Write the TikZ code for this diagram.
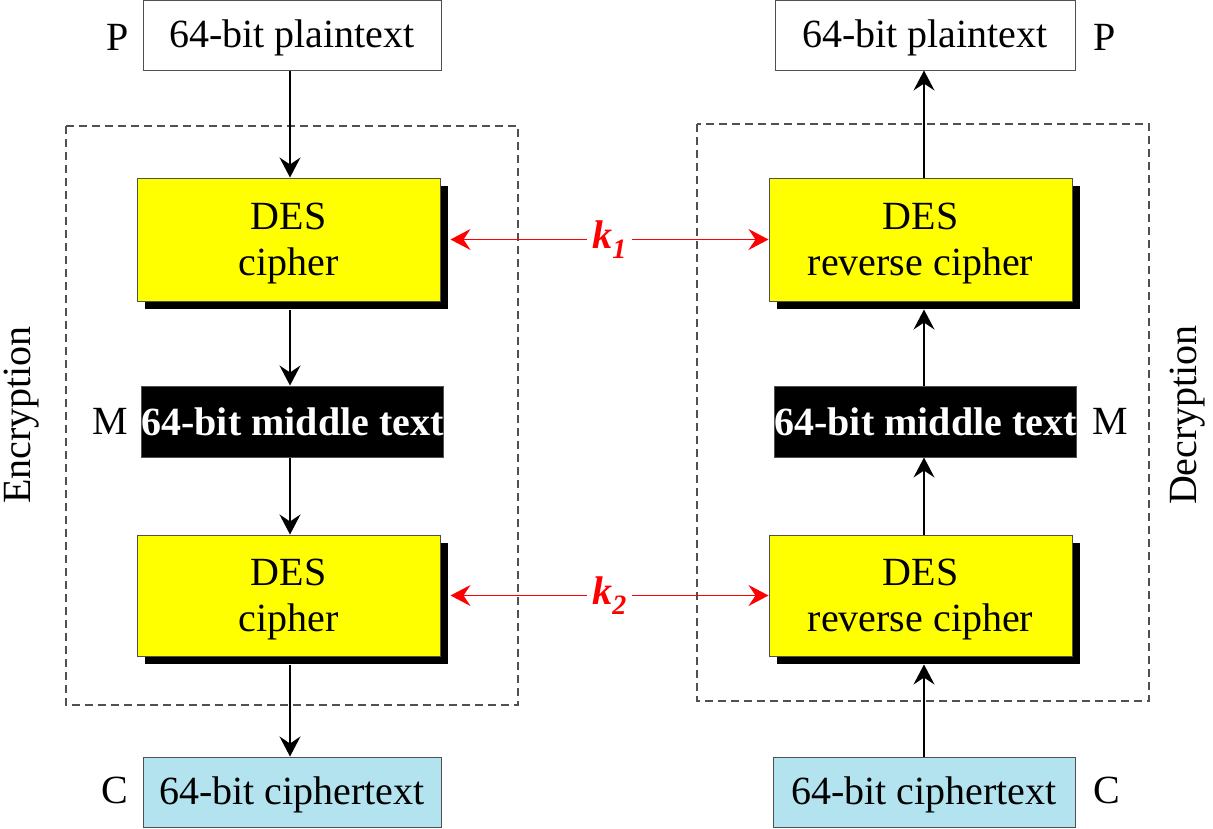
\documentclass[tikz,border=0pt]{standalone}
\usepackage{fontspec}
\setmainfont{Liberation Serif}
\usetikzlibrary{arrows.meta,shadows}
\definecolor{cyanbox}{HTML}{B3E3EE}
\definecolor{desyellow}{HTML}{FFFF00}
\definecolor{boxline}{HTML}{505050}
\definecolor{kred}{HTML}{FF0000}
\tikzset{
  big/.style={font=\fontsize{40}{46}\selectfont},
  plainbox/.style={draw=boxline, line width=1pt, fill=white, big, inner sep=0pt, text height=33pt, text depth=9pt},
  desbox/.style={draw=boxline, line width=1pt, fill=desyellow, inner sep=0pt,
     minimum width=303pt, drop shadow={shadow xshift=8pt, shadow yshift=-8pt, fill=black, opacity=1}},
  destext/.style={big, align=center, yshift=-4pt, inner sep=0pt},
  midbox/.style={draw=boxline, line width=1pt, fill=black, text=white, inner sep=0pt,
     minimum width=301pt, minimum height=71pt, font=\fontsize{40}{46}\selectfont\bfseries},
  cbox/.style={draw=boxline, line width=1pt, fill=cyanbox, big, inner sep=0pt, minimum height=70pt, text height=33pt, text depth=9pt},
  frame/.style={draw=boxline, line width=1.2pt, dash pattern=on 8pt off 5pt},
  tip/.tip={Stealth[length=20pt, width=21pt, inset=7pt]},
  arr/.style={line width=1.3pt, -tip},
  karr/.style={kred, line width=1.3pt, tip-tip},
  lab/.style={big},
  klab/.style={fill=white, text=kred, inner sep=5pt, font=\fontsize{40}{46}\selectfont\bfseries\itshape},
}
\begin{document}
\begin{tikzpicture}[x=1pt, y=-1pt]
\useasboundingbox (0,0) rectangle (1213,828);
% frames
\draw[frame] (66,126) rectangle (518,705);
\draw[frame] (697,124) rectangle (1149,701);
% left column
\node[plainbox, minimum width=298pt, minimum height=70pt] (pL) at (292,35) {64-bit plaintext};
\node[desbox, minimum height=123pt, label={[destext]center:DES\\cipher}] (d1L) at (288.5,239.5) {};
\node[midbox] (mL) at (292.5,421.5) {64-bit middle text};
\node[desbox, minimum height=121pt, label={[destext]center:DES\\cipher}] (d2L) at (288.5,595.5) {};
\node[cbox, minimum width=298pt] (cL) at (292,792) {64-bit ciphertext};
% right column
\node[plainbox, minimum width=300pt, minimum height=70pt] (pR) at (925,35) {64-bit plaintext};
\node[desbox, minimum height=123pt, label={[destext]center:DES\\reverse cipher}] (d1R) at (920.5,239.5) {};
\node[midbox] (mR) at (925.5,421.5) {64-bit middle text};
\node[desbox, minimum height=121pt, label={[destext]center:DES\\reverse cipher}] (d2R) at (920.5,595.5) {};
\node[cbox, minimum width=302pt] (cR) at (924,792) {64-bit ciphertext};
% side labels
\node[lab] (P1) at (118,37) {P};
\node[lab] (P2) at (1105,37) {P};
\node[lab] (M1) at (110,421) {M};
\node[lab] (M2) at (1110,421) {M};
\node[lab] (C1) at (115,790) {C};
\node[lab] (C2) at (1107,790) {C};
\node[lab, rotate=90] (enc) at (22,415) {Encryption};
\node[lab, rotate=90] (dec) at (1188,415) {Decryption};
% left arrows
\coordinate (xl) at (290,0);
\draw[arr] (xl |- pL.south) -- (xl |- d1L.north);
\draw[arr] ([yshift=-8pt]xl |- d1L.south) -- (xl |- mL.north);
\draw[arr] (xl |- mL.south) -- (xl |- d2L.north);
\draw[arr] ([yshift=-8pt]xl |- d2L.south) -- (xl |- cL.north);
% right arrows
\coordinate (xr) at (924,0);
\draw[arr] (xr |- cR.north) -- ([yshift=-8pt]xr |- d2R.south);
\draw[arr] (xr |- d2R.north) -- (xr |- mR.south);
\draw[arr] (xr |- mR.north) -- ([yshift=-8pt]xr |- d1R.south);
\draw[arr] (xr |- d1R.north) -- (xr |- pR.south);
% keys
\draw[karr] ([xshift=10pt]d1L.east) -- node[klab] (k1) {k\textsubscript{1}} (d1R.west);
\draw[karr] ([xshift=10pt]d2L.east) -- node[klab] (k2) {k\textsubscript{2}} (d2R.west);
\end{tikzpicture}
\end{document}
